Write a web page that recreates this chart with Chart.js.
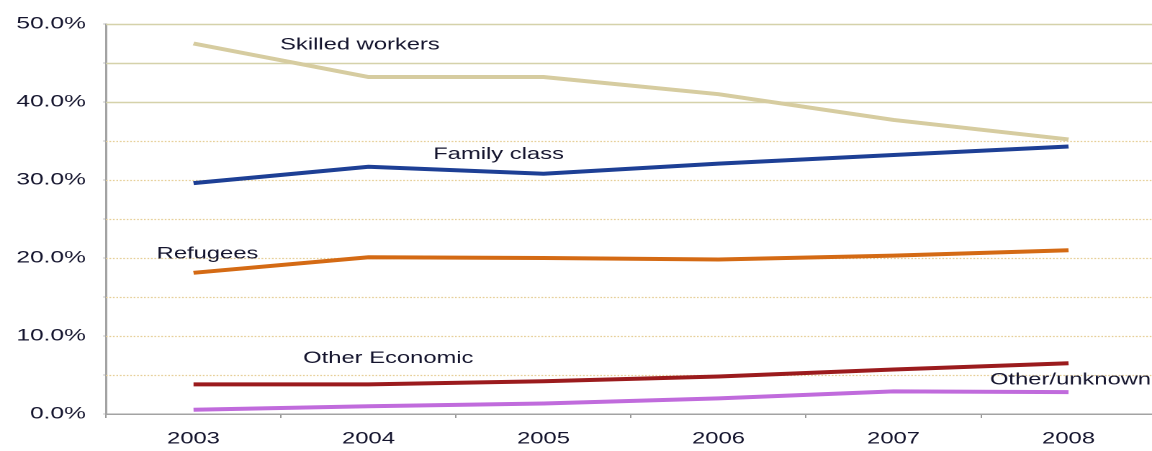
<!DOCTYPE html>
<html>
<head>
<meta charset="utf-8">
<script src="https://cdn.jsdelivr.net/npm/chart.js@4"></script>
<style>
  html, body { margin: 0; padding: 0; background: #fff; overflow: hidden; width: 1152px; height: 451px; }
  #wrap { position: absolute; left: 0; top: 0; width: 806px; height: 451px; transform: scaleX(1.44); transform-origin: 0 0; }
</style>
</head>
<body>
<div id="wrap"><canvas id="c"></canvas></div>
<script>
const years = ['2003', '2004', '2005', '2006', '2007', '2008'];
const skilledWorkers = [47.5, 43.2, 43.2, 41.0, 37.7, 35.2];
const familyClass = [29.6, 31.7, 30.8, 32.1, 33.2, 34.3];
const refugees = [18.1, 20.1, 20.0, 19.8, 20.3, 21.0];
const otherEconomic = [3.8, 3.8, 4.2, 4.8, 5.7, 6.5];
const otherUnknown = [0.55, 1.0, 1.35, 2.0, 2.9, 2.8];
const yTicks = [0, 10, 20, 30, 40, 50];

// series labels anchored in data coordinates (category index, value)
const seriesLabels = [
  { text: 'Skilled workers', x: 0.951, y: 47.3, align: 'center' },
  { text: 'Family class', x: 1.743, y: 33.3, align: 'center' },
  { text: 'Refugees', x: 0.08, y: 20.55, align: 'center' },
  { text: 'Other Economic', x: 1.113, y: 7.1, align: 'center' },
  { text: 'Other/unknown', x: 4.551, y: 4.36, align: 'left' }
];

const FONT = '"Liberation Sans", Arial, sans-serif';
const TEXT_COLOR = '#15152e';

const gridPlugin = {
  id: 'customGrid',
  beforeDatasetsDraw(chart) {
    const { ctx, chartArea, scales } = chart;
    const y = scales.y;
    ctx.save();
    y.ticks.forEach(t => {
      if (t.value === 0) return;
      const py = Math.round(y.getPixelForValue(t.value)) + 0.5;
      ctx.beginPath();
      if (t.value >= 40) {
        ctx.strokeStyle = '#d5d2aa';
        ctx.lineWidth = 1.6;
        ctx.setLineDash([]);
      } else {
        ctx.strokeStyle = '#e6cf98';
        ctx.lineWidth = 1.2;
        ctx.setLineDash([1.2, 1.2]);
      }
      ctx.moveTo(chartArea.left, py);
      ctx.lineTo(chartArea.right, py);
      ctx.stroke();
    });
    ctx.restore();
  }
};

const labelPlugin = {
  id: 'seriesLabels',
  afterDatasetsDraw(chart) {
    const { ctx, scales } = chart;
    ctx.save();
    ctx.font = '16.5px ' + FONT;
    ctx.fillStyle = TEXT_COLOR;
    ctx.textBaseline = 'middle';
    seriesLabels.forEach(l => {
      ctx.textAlign = l.align;
      ctx.fillText(l.text, scales.x.getPixelForValue(l.x), scales.y.getPixelForValue(l.y));
    });
    ctx.restore();
  }
};

function ds(label, data, color) {
  return { label, data, borderColor: color, backgroundColor: color, borderWidth: 4, pointRadius: 0, tension: 0, fill: false, borderCapStyle: 'butt' };
}

new Chart(document.getElementById('c'), {
  type: 'line',
  data: {
    labels: years,
    datasets: [
      ds('Skilled workers', skilledWorkers, '#d6cca0'),
      ds('Family class', familyClass, '#1d3f95'),
      ds('Refugees', refugees, '#d46a14'),
      ds('Other Economic', otherEconomic, '#9b1b1d'),
      ds('Other/unknown', otherUnknown, '#c06bdc')
    ]
  },
  options: {
    responsive: true,
    maintainAspectRatio: false,
    animation: false,
    devicePixelRatio: 2,
    layout: { padding: { top: 24, right: 3.2, left: 0, bottom: 0 } },
    plugins: { legend: { display: false }, tooltip: { enabled: false } },
    scales: {
      x: {
        type: 'category',
        offset: true,
        afterFit(scale) { scale.height = 37; },
        grid: { display: true, offset: true, drawOnChartArea: false, drawTicks: true, tickLength: 4, tickColor: '#9a9a9a', tickWidth: 1 },
        border: { display: true, color: '#a3a3a3', width: 1.5 },
        ticks: { color: TEXT_COLOR, font: { family: FONT, size: 16.5 }, padding: 11, maxRotation: 0 }
      },
      y: {
        min: 0,
        max: 50,
        afterFit(scale) { scale.width = 73.6; },
        afterBuildTicks(scale) {
          const t = [];
          for (let v = 0; v <= 50; v += 5) t.push({ value: v });
          scale.ticks = t;
        },
        grid: { display: true, drawOnChartArea: false, drawTicks: true, tickLength: 2, tickColor: '#c0c0c0' },
        border: { display: true, color: '#a3a3a3', width: 1.5 },
        ticks: {
          color: TEXT_COLOR,
          font: { family: FONT, size: 17 },
          padding: 12,
          callback: v => yTicks.includes(v) ? v.toFixed(1) + '%' : ''
        }
      }
    }
  },
  plugins: [gridPlugin, labelPlugin]
});
</script>
</body>
</html>
